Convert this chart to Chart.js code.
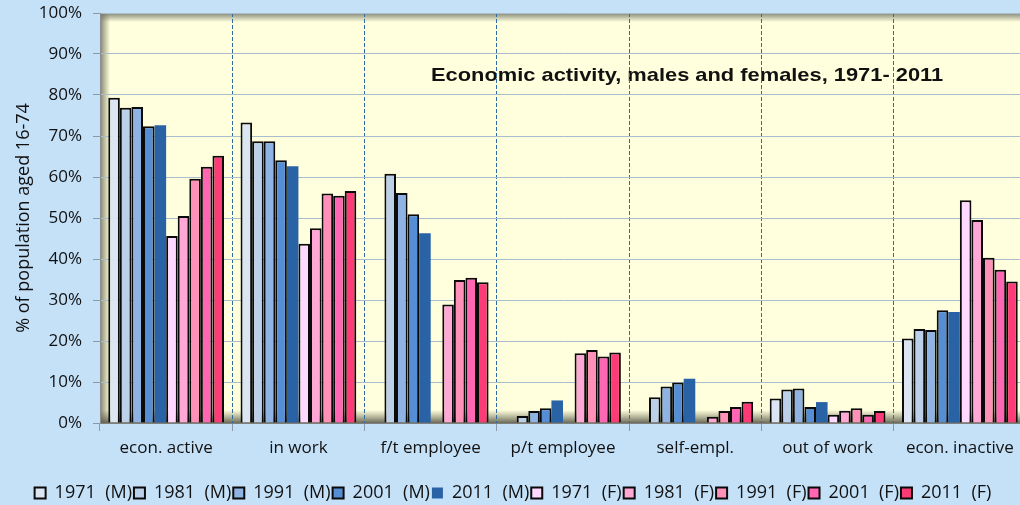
<!DOCTYPE html>
<html>
<head>
<meta charset="utf-8">
<script src="https://cdn.jsdelivr.net/npm/chart.js@4.4.1/dist/chart.umd.min.js"></script>
<style>
  html, body { margin: 0; padding: 0; background: #C5E1F8; overflow: hidden; }
</style>
</head>
<body>
<canvas id="chart" width="1026" height="505"></canvas>
<script>
// categories and series (values in % of population aged 16-74)
const categories = ['econ. active', 'in work', 'f/t employee', 'p/t employee', 'self-empl.', 'out of work', 'econ. inactive'];
const seriesNames = ['1971  (M)', '1981  (M)', '1991  (M)', '2001  (M)', '2011  (M)',
                     '1971  (F)', '1981  (F)', '1991  (F)', '2001  (F)', '2011  (F)'];

const m1971 = [79.3, 73.3, null, null, null, 6.0, 20.6];
const m1981 = [76.9, 68.7, 60.8, 1.7, 6.3, 8.2, 22.9];
const m1991 = [77.1, 68.7, 56.1, 2.9, 8.9, 8.4, 22.7];
const m2001 = [72.4, 64.1, 50.9, 3.6, 9.9, 3.9, 27.5];
const m2011 = [72.6, 62.6, 46.3, 5.5, 10.8, 5.1, 27.1];
const f1971 = [45.6, 43.7, null, null, null, 2.0, 54.3];
const f1981 = [50.5, 47.5, 28.9, 17.0, 1.5, 3.0, 49.5];
const f1991 = [59.6, 56.0, 34.9, 17.8, 2.9, 3.6, 40.3];
const f2001 = [62.5, 55.4, 35.4, 16.2, 3.9, 2.0, 37.4];
const f2011 = [65.2, 56.6, 34.3, 17.2, 5.2, 2.9, 34.5];

const yTicks = [0, 10, 20, 30, 40, 50, 60, 70, 80, 90, 100];

const allSeries = [m1971, m1981, m1991, m2001, m2011, f1971, f1981, f1991, f2001, f2011];
const fills = ['#DCE6F2', '#BCD0EA', '#8FB3E2', '#558ED5', '#2A62A6',
               '#FFD9FF', '#FFA8D6', '#FF91B8', '#FF66B3', '#FF3B77'];

const titleText = 'Economic activity, males and females, 1971- 2011';

// plot area background with the soft shaded edges
const plotBackground = {
    id: 'plotBackground',
    beforeDraw(chart) {
        const { ctx, chartArea: a } = chart;
        ctx.save();
        ctx.fillStyle = '#FFFFDD';
        ctx.fillRect(a.left, a.top, a.right - a.left, a.bottom - a.top);

        let g = ctx.createLinearGradient(a.left, 0, a.left + 10, 0);
        g.addColorStop(0, 'rgba(110,110,90,0.85)');
        g.addColorStop(1, 'rgba(110,110,90,0)');
        ctx.fillStyle = g;
        ctx.fillRect(a.left, a.top, 10, a.bottom - a.top);

        g = ctx.createLinearGradient(0, a.bottom, 0, a.bottom - 13);
        g.addColorStop(0, 'rgba(90,90,75,0.9)');
        g.addColorStop(1, 'rgba(110,110,90,0)');
        ctx.fillStyle = g;
        ctx.fillRect(a.left, a.bottom - 13, a.right - a.left, 13);

        g = ctx.createLinearGradient(0, a.top, 0, a.top + 9);
        g.addColorStop(0, 'rgba(110,115,100,0.85)');
        g.addColorStop(1, 'rgba(110,115,100,0)');
        ctx.fillStyle = g;
        ctx.fillRect(a.left, a.top, a.right - a.left, 9);

        // title sits inside the plot, under the grid lines (stretched like the original)
        ctx.translate(a.left + (a.right - a.left) * 0.634, a.top + 63);
        ctx.scale(1.15, 1);
        ctx.font = 'bold 19px "Liberation Sans", Arial, sans-serif';
        ctx.fillStyle = '#111';
        ctx.textAlign = 'center';
        ctx.textBaseline = 'middle';
        ctx.fillText(titleText, 0, 0);
        ctx.restore();
    }
};

new Chart(document.getElementById('chart').getContext('2d'), {
    type: 'bar',
    data: {
        labels: categories,
        datasets: allSeries.map((data, i) => ({
            label: seriesNames[i],
            data,
            backgroundColor: fills[i],
            borderColor: i === 4 ? fills[i] : '#0A0A0A',
            borderWidth: i === 4 ? 0 : 2,
            categoryPercentage: 0.875,
            barPercentage: 1
        }))
    },
    options: {
        responsive: false,
        animation: false,
        layout: { padding: { top: 13, left: 0, right: 0, bottom: -7 } },
        plugins: {
            legend: {
                position: 'bottom',
                labels: {
                    boxWidth: 11,
                    boxHeight: 11,
                    padding: 2,
                    color: '#111',
                    font: { family: '"Open Sans", sans-serif', size: 18, lineHeight: 1 }
                }
            },
            tooltip: { enabled: false }
        },
        scales: {
            x: {
                grid: {
                    color: c => c.index === 0 ? 'rgba(0,0,0,0)' : '#2E6DA4',
                    tickColor: '#8A9AA8',
                    tickBorderDash: [],
                    tickLength: 8
                },
                border: { color: '#7F7F7F', width: 1, dash: [4, 2] },
                ticks: {
                    color: '#111',
                    padding: 7,
                    font: { family: '"Open Sans", sans-serif', size: 17 }
                },
                afterFit: s => { s.height = 59; s.paddingLeft = 0; s.paddingRight = 0; }
            },
            y: {
                min: 0,
                max: 100,
                afterBuildTicks: s => { s.ticks = yTicks.map(v => ({ value: v })); },
                grid: { color: '#A8BECD', tickColor: '#8A9AA8', tickLength: 7 },
                border: { color: '#8D8D8D', width: 1 },
                ticks: {
                    color: '#111',
                    padding: 11,
                    font: { family: '"Open Sans", sans-serif', size: 17 },
                    callback: v => v + '%'
                },
                title: {
                    display: true,
                    text: '% of population aged 16-74',
                    color: '#111',
                    padding: { top: 13, bottom: 0 },
                    font: { family: '"Open Sans", sans-serif', size: 18 }
                },
                afterFit: s => { s.width = 100; s.paddingTop = 0; s.paddingBottom = 0; }
            }
        }
    },
    plugins: [plotBackground]
});
</script>
</body>
</html>
